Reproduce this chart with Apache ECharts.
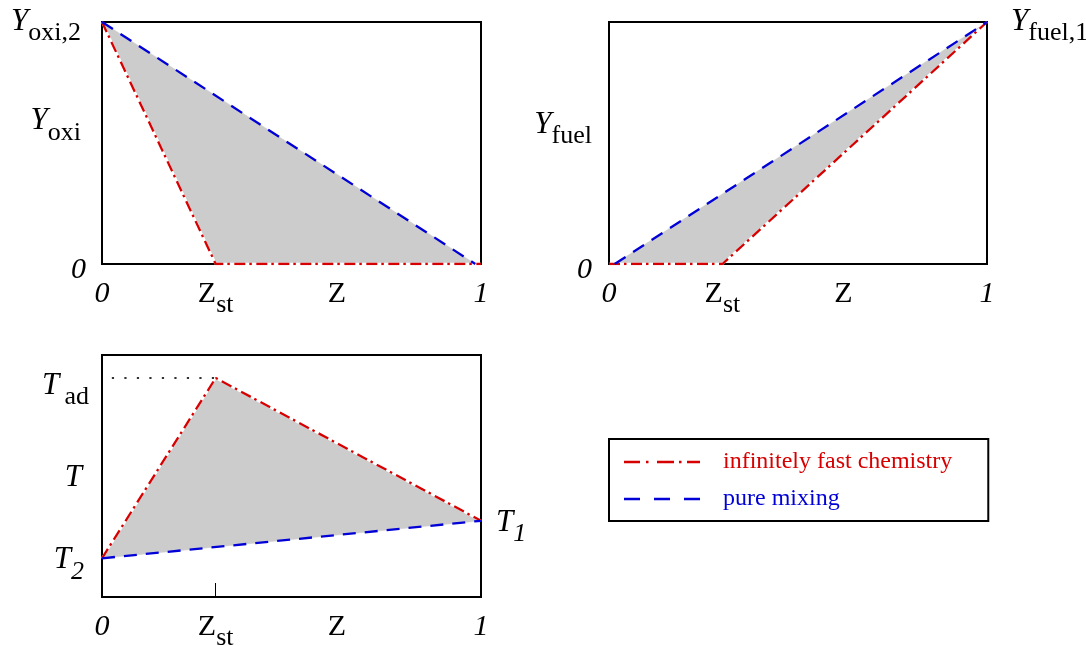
<!DOCTYPE html>
<html>
<head>
<meta charset="utf-8">
<script src="https://cdn.jsdelivr.net/npm/echarts@6/dist/echarts.min.js"></script>
<style>
  html, body { margin: 0; padding: 0; background: #ffffff; }
  #chart { width: 1086px; height: 646px; }
</style>
</head>
<body>
<div id="chart"></div>
<script>
// Stoichiometric mixture fraction
const Z_ST = 0.30;

// Oxidizer mass fraction vs. mixture fraction Z
const oxiChemistry = [[0, 1], [Z_ST, 0], [1, 0]];
const oxiMixing = [[0, 1], [0.985, 0]];

// Fuel mass fraction vs. mixture fraction Z
const fuelChemistry = [[0, 0], [Z_ST, 0], [1, 1]];
const fuelMixing = [[0.015, 0], [1, 1]];

// Temperature vs. mixture fraction Z (normalised axis)
const T_2 = 0.16;
const T_1 = 0.315;
const T_AD = 0.905;
const tempChemistry = [[0, T_2], [Z_ST, T_AD], [1, T_1]];
const tempMixing = [[0, T_2], [1, T_1]];
const tadGuide = [[0.026, T_AD], [Z_ST, T_AD]];

// Axis tick positions and labels
const zTickValues = [0, Z_ST, 0.62, 1];
const zTickLabels = ['{n|0}', '{u|Z}{s|st}', '{u|Z}', '{n|1}'];
const oxiTickValues = [0, 0.59, 1];
const oxiTickLabels = ['{z|0}', '{y|Y}{sp|oxi}', '{y|Y}{sp|oxi,2}'];
const fuelTickValues = [0, 0.575];
const fuelTickLabels = ['{z|0}', '{y|Y}{s|fuel}'];
const fuelRightValues = [1];
const fuelRightLabels = ['{y|Y}{s|fuel,1}'];
const tempTickValues = [T_2, 0.50, T_AD];
const tempTickLabels = ['{t|T}{sip|2}', '{tp|T}', '{ta|T}{s|\u2009ad}'];
const tempRightValues = [T_1];
const tempRightLabels = ['{t|T}{si|1}'];

const SERIES_CHEM = 'infinitely fast chemistry';
const SERIES_MIX = 'pure mixing';

const RED = '#d70000';
const BLUE = '#0000d7';
const FILL = '#cccccc';
const FONT = '"Liberation Serif", "DejaVu Serif", serif';

const rich = {
  y: { fontFamily: FONT, fontSize: 31, fontStyle: 'italic', color: '#000', verticalAlign: 'bottom', padding: [9, 0, 9, 0] },
  t: { fontFamily: FONT, fontSize: 31, fontStyle: 'italic', color: '#000', verticalAlign: 'bottom', padding: [13, 0, 9, 0] },
  tp: { fontFamily: FONT, fontSize: 31, fontStyle: 'italic', color: '#000', verticalAlign: 'bottom', padding: [13, 7, 9, 0] },
  ta: { fontFamily: FONT, fontSize: 31, fontStyle: 'italic', color: '#000', verticalAlign: 'bottom', padding: [25, 0, 9, 0] },
  u: { fontFamily: FONT, fontSize: 30, color: '#000', verticalAlign: 'bottom', padding: [0, 0, 9, 0] },
  n: { fontFamily: FONT, fontSize: 30, fontStyle: 'italic', color: '#000', verticalAlign: 'bottom', padding: [0, 0, 9, 0] },
  z: { fontFamily: FONT, fontSize: 30, fontStyle: 'italic', color: '#000', verticalAlign: 'bottom', padding: [13, 0, 0, 0] },
  s: { fontFamily: FONT, fontSize: 26, color: '#000', verticalAlign: 'bottom' },
  sp: { fontFamily: FONT, fontSize: 26, color: '#000', verticalAlign: 'bottom', padding: [0, 5, 0, 0] },
  si: { fontFamily: FONT, fontSize: 26, fontStyle: 'italic', color: '#000', verticalAlign: 'bottom' },
  sip: { fontFamily: FONT, fontSize: 26, fontStyle: 'italic', color: '#000', verticalAlign: 'bottom', padding: [0, 5, 0, 0] }
};

function labelFor(values, labels) {
  return function (v) {
    for (let i = 0; i < values.length; i++) {
      if (Math.abs(values[i] - v) < 1e-6) return labels[i];
    }
    return '';
  };
}

function zAxis(gridIndex) {
  return {
    type: 'value', gridIndex: gridIndex, min: 0, max: 1,
    axisLine: { show: false },
    splitLine: { show: false },
    axisTick: { show: true, inside: true, length: 14, customValues: [Z_ST], lineStyle: { color: '#000', width: 1 } },
    axisLabel: {
      customValues: zTickValues, formatter: labelFor(zTickValues, zTickLabels),
      margin: 15, rich: rich, hideOverlap: false
    }
  };
}

function yAxis(gridIndex, values, labels, position, margin) {
  return {
    type: 'value', gridIndex: gridIndex, min: 0, max: 1, position: position,
    axisLine: { show: false },
    splitLine: { show: false },
    axisTick: { show: false },
    axisLabel: {
      customValues: values, formatter: labelFor(values, labels),
      margin: margin, rich: rich, hideOverlap: false
    }
  };
}

// Grey region between the two limiting cases
function fillSeries(axisIdx, upper, lower) {
  const pts = upper.concat(lower.slice().reverse());
  return {
    type: 'custom', xAxisIndex: axisIdx, yAxisIndex: axisIdx, z: 1, silent: true,
    data: [0],
    renderItem: function (params, api) {
      return {
        type: 'polygon',
        shape: { points: pts.map(function (p) { return api.coord(p); }) },
        style: { fill: FILL, stroke: FILL, lineWidth: 0.5 }
      };
    }
  };
}

function lineSeries(name, axisIdx, data, color, dash, z) {
  return {
    name: name, type: 'line', xAxisIndex: axisIdx, yAxisIndex: axisIdx,
    data: data, symbol: 'none', z: z, silent: true, animation: false,
    lineStyle: { color: color, width: 2.3, type: dash, cap: 'butt' }
  };
}

function backing(axisIdx, data) {
  return {
    type: 'line', xAxisIndex: axisIdx, yAxisIndex: axisIdx, data: data,
    symbol: 'none', z: 3, silent: true, animation: false,
    lineStyle: { color: '#ffffff', width: 2.3, type: 'solid' }
  };
}

const DASH_CHEM = [11, 4, 2.5, 4.5];
const DASH_MIX = [13, 9];

const gridBase = {
  show: true, borderColor: '#000', borderWidth: 2, backgroundColor: 'transparent',
  outerBoundsMode: 'none', containLabel: false
};

const chart = echarts.init(document.getElementById('chart'), null, { renderer: 'canvas' });

chart.setOption({
  animation: false,
  backgroundColor: '#ffffff',
  grid: [
    Object.assign({ left: 102, top: 22, width: 379, height: 242 }, gridBase),
    Object.assign({ left: 609, top: 22, width: 378, height: 242 }, gridBase),
    Object.assign({ left: 102, top: 355, width: 379, height: 242 }, gridBase)
  ],
  xAxis: [zAxis(0), zAxis(1), zAxis(2), zAxis(1), zAxis(2)].map(function (a, i) {
    if (i >= 3) { a.axisLabel.show = false; a.axisTick.show = false; }
    return a;
  }),
  yAxis: [
    yAxis(0, oxiTickValues, oxiTickLabels, 'left', 16),
    yAxis(1, fuelTickValues, fuelTickLabels, 'left', 17),
    yAxis(2, tempTickValues, tempTickLabels, 'left', 13),
    yAxis(1, fuelRightValues, fuelRightLabels, 'right', 24),
    yAxis(2, tempRightValues, tempRightLabels, 'right', 15)
  ],
  legend: {
    left: 609, top: 439,
    orient: 'vertical',
    selectedMode: false,
    backgroundColor: '#ffffff',
    borderColor: '#000', borderWidth: 2, borderRadius: 0,
    padding: [11, 36, 10, 15],
    itemWidth: 76, itemHeight: 2.5, itemGap: 13,
    textStyle: { fontFamily: FONT, fontSize: 24, lineHeight: 24, padding: [0, 0, 0, 18] },
    data: [
      {
        name: SERIES_CHEM,
        icon: 'path://M0 0h16v2.5h-16z M22 0h2.5v2.5h-2.5z M33 0h17v2.5h-17z M55 0h2.5v2.5h-2.5z M63 0h13v2.5h-13z',
        itemStyle: { color: RED },
        textStyle: { color: RED }
      },
      {
        name: SERIES_MIX,
        icon: 'path://M0 0h16v2.5h-16z M30 0h16v2.5h-16z M60 0h16v2.5h-16z',
        itemStyle: { color: BLUE },
        textStyle: { color: BLUE }
      }
    ]
  },
  series: [
    // oxidizer
    fillSeries(0, oxiMixing, oxiChemistry),
    backing(0, oxiChemistry),
    lineSeries(SERIES_CHEM, 0, oxiChemistry, RED, DASH_CHEM, 4),
    lineSeries(SERIES_MIX, 0, oxiMixing, BLUE, DASH_MIX, 4),
    // fuel
    fillSeries(1, fuelMixing, fuelChemistry),
    backing(1, fuelChemistry),
    lineSeries(SERIES_CHEM, 1, fuelChemistry, RED, DASH_CHEM, 4),
    lineSeries(SERIES_MIX, 1, fuelMixing, BLUE, DASH_MIX, 4),
    // temperature
    fillSeries(2, tempChemistry, tempMixing),
    {
      type: 'line', xAxisIndex: 2, yAxisIndex: 2, data: tadGuide,
      symbol: 'none', z: 2, silent: true, animation: false,
      lineStyle: { color: '#333333', width: 2.2, type: [2.2, 10.3] }
    },
    backing(2, tempChemistry),
    lineSeries(SERIES_CHEM, 2, tempChemistry, RED, DASH_CHEM, 4),
    lineSeries(SERIES_MIX, 2, tempMixing, BLUE, DASH_MIX, 4)
  ]
});
</script>
</body>
</html>
